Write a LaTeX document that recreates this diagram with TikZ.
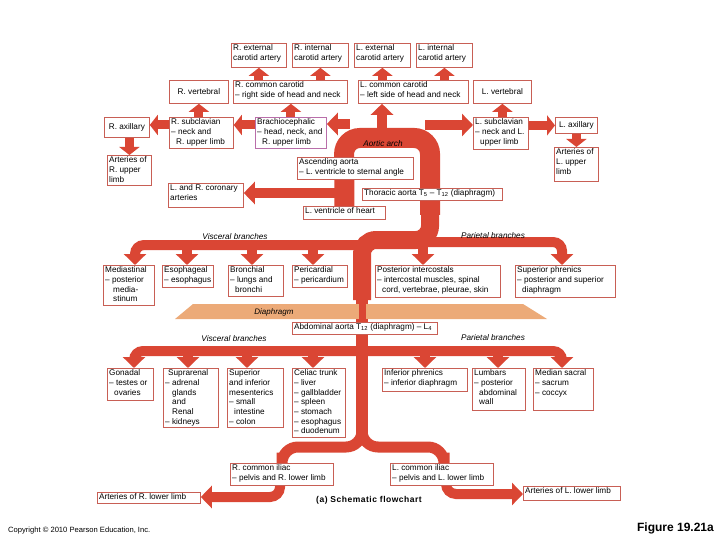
\documentclass[tikz,border=0pt]{standalone}
\usepackage{fontspec}
\setmainfont{Liberation Sans}
\usetikzlibrary{arrows.meta,calc}
\pgfdeclarelayer{background}
\pgfsetlayers{background,main}
\definecolor{ared}{RGB}{218,70,52}
\definecolor{bred}{RGB}{200,95,85}
\definecolor{bpur}{RGB}{185,110,170}
\definecolor{dia}{RGB}{236,170,120}
\tikzset{
 box/.style={draw=bred, line width=0.8pt, fill=white, inner sep=0pt},
 txt/.style={inner sep=0pt, align=left, font=\fontsize{8.2}{9.7}\selectfont},
 fat/.style={draw=ared, line width=10pt, -{Triangle[width=22pt,length=11pt]}},
 fatshort/.style={draw=ared, line width=9pt, -{Triangle[width=20pt,length=8pt]}},
 aorta/.style={draw=ared},
 lab/.style={font=\fontsize{8.2}{9.7}\selectfont\itshape, inner sep=0pt},
}
\newcommand\bx[7][bred]{%
  \pgfmathsetmacro\bw{#5-#3}\pgfmathsetmacro\bh{#6-#4}%
  \node[box, draw=#1, anchor=north west, minimum width=\bw pt, minimum height=\bh pt] (#2) at (#3,#4) {};
  \node[txt, anchor=north west] (#2t) at ([shift={(2pt,-1.5pt)}]#2.north west) {#7};}
\newcommand\bxc[6]{%
  \pgfmathsetmacro\bw{#4-#2}\pgfmathsetmacro\bh{#5-#3}%
  \node[box, anchor=north west, minimum width=\bw pt, minimum height=\bh pt] (#1) at (#2,#3) {};
  \node[txt, align=center] (#1t) at (#1.center) {#6};}
\begin{document}
\begin{tikzpicture}[x=1pt,y=-1pt]
\useasboundingbox (0,0) rectangle (720,540);
% ---------- boxes ----------
\bx{rec}{231}{43}{286}{67}{R. external\\carotid artery}
\bx{ric}{292}{43}{348}{67}{R. internal\\carotid artery}
\bx{lec}{354}{43}{410}{67}{L. external\\carotid artery}
\bx{lic}{416}{43}{472}{67}{L. internal\\carotid artery}
\bxc{rvert}{169}{80}{228}{103}{R. vertebral}
\bx{rcc}{233}{80}{347}{103}{R. common carotid\\– right side of head and neck}
\bx{lcc}{358}{80}{468}{103}{L. common carotid\\– left side of head and neck}
\bxc{lvert}{473}{80}{531}{103}{L. vertebral}
\bxc{rax}{104}{117}{149}{137}{R. axillary}
\bx{rsub}{169}{117}{233}{148}{R. subclavian\\– neck and\\\hspace*{5pt}R. upper limb}
\bx[bpur]{brach}{255}{117}{326}{148}{Brachiocephalic\\– head, neck, and\\\hspace*{5pt}R. upper limb}
\bx{lsub}{473}{117}{528}{149}{L. subclavian\\– neck and L.\\\hspace*{5pt}upper limb}
\bxc{lax}{555}{117}{597}{133}{L. axillary}
\bx{lupper}{554}{147}{598}{181}{Arteries of\\L. upper\\limb}
\bx{rupper}{107}{155}{151}{185}{Arteries of\\R. upper\\limb}
\bx{asc}{297}{157}{413}{179}{Ascending aorta\\– L. ventricle to sternal angle}
\bx{cor}{168}{183}{243}{207}{L. and R. coronary\\arteries}
\bx{thor}{362}{188}{502}{200}{Thoracic aorta T\textsubscript{5} – T\textsubscript{12} (diaphragm)}
\bx{lvh}{303}{206}{385}{219}{L. ventricle of heart}
\bx{med}{103}{265}{154}{305}{Mediastinal\\– posterior\\\hspace*{8pt}media-\\\hspace*{8pt}stinum}
\bx{eso}{162}{265}{213}{287}{Esophageal\\– esophagus}
\bx{bron}{228}{265}{283}{296}{Bronchial\\– lungs and\\\hspace*{5pt}bronchi}
\bx{peri}{292}{265}{347}{287}{Pericardial\\– pericardium}
\bx{pic}{375}{265}{500}{297}{Posterior intercostals\\– intercostal muscles, spinal\\\hspace*{5pt}cord, vertebrae, pleurae, skin}
\bx{sphr}{515}{265}{615}{297}{Superior phrenics\\– posterior and superior\\\hspace*{5pt}diaphragm}
\bx{abd}{292}{322}{437}{334}{Abdominal aorta T\textsubscript{12} (diaphragm) – L\textsubscript{4}}
\bx{gon}{107}{368}{153}{400}{Gonadal\\– testes or\\\hspace*{5pt}ovaries}
\bx{supr}{163}{368}{218}{427}{\hspace*{3pt}Suprarenal\\– adrenal\\\hspace*{7pt}glands\\\hspace*{7pt}and\\\hspace*{7pt}Renal\\– kidneys}
\bx{sim}{227}{368}{283}{427}{Superior\\and inferior\\mesenterics\\– small\\\hspace*{5pt}intestine\\– colon}
\bx{cel}{292}{368}{345}{437}{Celiac trunk\\– liver\\– gallbladder\\– spleen\\– stomach\\– esophagus\\– duodenum}
\bx{iphr}{382}{368}{467}{391}{Inferior phrenics\\– inferior diaphragm}
\bx{lumb}{472}{368}{525}{410}{Lumbars\\– posterior\\\hspace*{5pt}abdominal\\\hspace*{5pt}wall}
\bx{msac}{533}{368}{593}{410}{Median sacral\\– sacrum\\– coccyx}
\bx{rci}{230}{463}{333}{485}{R. common iliac\\– pelvis and R. lower limb}
\bx{lci}{390}{463}{493}{485}{L. common iliac\\– pelvis and L. lower limb}
\bx{rlow}{97}{492}{200}{503}{Arteries of R. lower limb}
\bx{llow}{523}{486}{620}{500}{Arteries of L. lower limb}
% ---------- labels ----------
\node[lab] (arch) at (383,144) {Aortic arch};
\node[lab] (tvis) at (235,237) {Visceral branches};
\node[lab] (tpar) at (493,236) {Parietal branches};
\node[lab] (avis) at (234,339) {Visceral branches};
\node[lab] (apar) at (493,338) {Parietal branches};
\node[font=\bfseries\fontsize{8.5}{9}\selectfont\addfontfeature{LetterSpace=6}, inner sep=0pt] (cap) at (369,500) {(a) Schematic flowchart};
\node[font=\fontsize{7.6}{8}\selectfont, anchor=west, inner sep=0pt] (copy) at (8,531) {Copyright © 2010 Pearson Education, Inc.};
\node[font=\bfseries\fontsize{12}{12}\selectfont, anchor=east, inner sep=0pt] (fig) at (714,528) {Figure 19.21a};
% ---------- background: aorta and arrows ----------
\begin{pgfonlayer}{background}
\coordinate (a1) at (344,138); \coordinate (a2) at (430,138);
\coordinate (a3) at (430,240); \coordinate (a4) at (362,240);
\draw[aorta, line width=20pt, rounded corners=16pt] (lvh.north) -- (a1) -- (a2) -- (430,215);
\draw[aorta, line width=18pt, rounded corners=14pt] (430,200) -- (a3) -- (a4) -- (362,300);
% branches off the arch
\coordinate (aL) at (350,124); \draw[fat] (aL) -- (brach.east |- aL);
\coordinate (aT) at (382,132); \draw[fat] (aT) -- (aT |- lcc.south);
\coordinate (aR) at (425,125); \draw[fat] (aR) -- (lsub.west |- aR);
\coordinate (aC) at (344,193); \draw[fat] (aC) -- (cor.east |- aC);
% top arrows
\draw[fatshort] (rcc.north -| rec.south) -- (rec.south);
\draw[fatshort] (rcc.north -| ric.south) -- (ric.south);
\draw[fatshort] (lcc.north -| lec.south) -- (lec.south);
\draw[fatshort] (lcc.north -| lic.south) -- (lic.south);
\draw[fatshort] (rsub.north -| rvert.south) -- (rvert.south);
\draw[fatshort] (brach.north) -- (brach.north |- rcc.south);
\draw[fatshort] (lsub.north -| lvert.south) -- (lvert.south);
\coordinate (yb) at (0,125);
\draw[fatshort] (brach.west |- yb) -- (rsub.east |- yb);
\draw[fatshort] (rsub.west |- yb) -- (rax.east |- yb);
\draw[fatshort] (lsub.east |- lax.west) -- (lax.west);
\draw[fatshort] (rax.south -| rupper.north) -- (rupper.north);
\draw[fatshort] (lax.south) -- (lupper.north);
% thoracic branches
\coordinate (tv) at (362,245); \coordinate (tv1) at (135,245);
\draw[fat, rounded corners=9pt] (tv) -- (tv1) -- (tv1 |- med.north);
\coordinate (tv2) at (187,245); \draw[fat] (tv2) -- (tv2 |- eso.north);
\coordinate (tv3) at (252,245); \draw[fat] (tv3) -- (tv3 |- bron.north);
\coordinate (tv4) at (313,245); \draw[fat] (tv4) -- (tv4 |- peri.north);
\coordinate (tp) at (362,242); \coordinate (tp1) at (562,242);
\draw[fat, rounded corners=9pt] (tp) -- (tp1) -- (tp1 |- sphr.north);
\coordinate (tp2) at (423,242); \draw[fat] (tp2) -- (tp2 |- pic.north);
% diaphragm and abdominal aorta
\draw[aorta, line width=12pt] (362,290) -- (362,305);
\fill[dia] (193,304) -- (523,304) -- (547,319) -- (175,319) -- cycle;
\draw[aorta, line width=7pt] (362,304) -- (362,320);
\draw[aorta, line width=12pt] (362,319) -- (362,440);
% abdominal branches
\coordinate (av) at (362,351); \coordinate (av1) at (134,351);
\draw[fat, rounded corners=9pt] (av) -- (av1) -- (av1 |- gon.north);
\coordinate (av2) at (188,351); \draw[fat] (av2) -- (av2 |- supr.north);
\coordinate (av3) at (247,351); \draw[fat] (av3) -- (av3 |- sim.north);
\coordinate (av4) at (313,351); \draw[fat] (av4) -- (av4 |- cel.north);
\coordinate (ap1) at (562,351);
\draw[fat, rounded corners=9pt] (av) -- (ap1) -- (ap1 |- msac.north);
\coordinate (ap2) at (425,351); \draw[fat] (ap2) -- (ap2 |- iphr.north);
\coordinate (ap3) at (498,351); \draw[fat] (ap3) -- (ap3 |- lumb.north);
% common iliacs
\coordinate (sp) at (362,447); \coordinate (spL) at (282,447); \coordinate (spR) at (444,447);
\draw[fat, line width=11pt, rounded corners=16pt] (362,425) -- (sp) -- (spL) -- (spL |- rci.north);
\draw[fat, line width=11pt, rounded corners=16pt] (362,425) -- (sp) -- (spR) -- (spR |- lci.north);
\coordinate (rl) at (280,497); \draw[fat, rounded corners=10pt] (rci.south -| rl) -- (rl) -- (rlow.east |- rl);
\coordinate (ll) at (446,494); \draw[fat, rounded corners=10pt] (lci.south -| ll) -- (ll) -- (llow.west |- ll);
\end{pgfonlayer}
\node[font=\fontsize{8}{9}\selectfont\itshape, inner sep=0pt] (diat) at (274,312) {Diaphragm};
\end{tikzpicture}
\end{document}
